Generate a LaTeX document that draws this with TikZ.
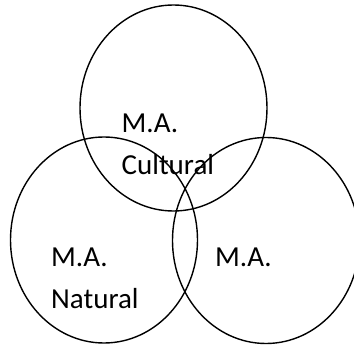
\documentclass[tikz,border=0pt]{standalone}
\usepackage{fontspec}
\setmainfont{Carlito}
\usetikzlibrary{shapes.geometric}

\begin{document}
\begin{tikzpicture}[
    x=1pt, y=-1pt,
    set/.style={ellipse, draw=black, line width=1.4pt, minimum width=187pt,
                minimum height=206pt, inner sep=0pt},
    label/.style={anchor=base west, align=left, inner sep=0pt,
                  font=\fontsize{29}{42}\selectfont}
]
\useasboundingbox (0,0) rectangle (354,345);

% Circles
\node[set] (Cultural) at (173.5,108) {};
\node[set] (Natural) at (104,240) {};
\node[set] (Other) at (266,240.5) {};

% Labels (anchored on the last line)
\node[label] (CulturalText) at (121.5,174.3) {M.A.\\Cultural};
\node[label] (NaturalText) at (51,308) {M.A.\\Natural};
\node[label] (OtherText) at (215,266) {M.A.};

\end{tikzpicture}
\end{document}
